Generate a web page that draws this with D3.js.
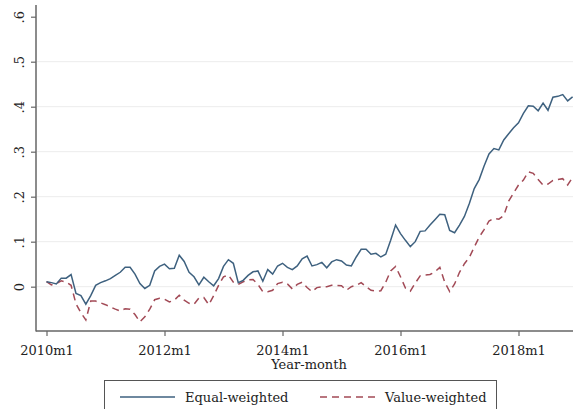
<!DOCTYPE html>
<html>
<head>
<meta charset="utf-8">
<script src="https://cdn.jsdelivr.net/npm/d3@7"></script>
<style>
  html, body { margin: 0; padding: 0; background: #fff; }
  svg { display: block; }
  text { font-family: "DejaVu Serif", "Liberation Serif", serif; fill: #222; }
</style>
</head>
<body>
<svg id="chart" width="573" height="409"></svg>
<script>
// Monthly cumulative returns, 2010m1 .. 2018m12
const startYear = 2010;
const equalWeighted = [
  0.011, 0.009, 0.006, 0.019, 0.019, 0.027, -0.015, -0.020, -0.039, -0.020,
  0.003, 0.009, 0.013, 0.018, 0.025, 0.032, 0.043, 0.043, 0.028, 0.007,
  -0.004, 0.003, 0.035, 0.045, 0.050, 0.040, 0.041, 0.070, 0.056, 0.032,
  0.022, 0.004, 0.021, 0.011, 0.002, 0.018, 0.045, 0.060, 0.052, 0.009,
  0.014, 0.025, 0.033, 0.035, 0.012, 0.038, 0.028, 0.046, 0.052, 0.043,
  0.038, 0.046, 0.062, 0.068, 0.046, 0.049, 0.054, 0.042, 0.055, 0.060,
  0.057, 0.048, 0.046, 0.066, 0.083, 0.083, 0.072, 0.074, 0.066, 0.072,
  0.103, 0.137, 0.118, 0.103, 0.089, 0.100, 0.123, 0.124, 0.137, 0.149,
  0.161, 0.160, 0.125, 0.120, 0.137, 0.156, 0.185, 0.218, 0.238, 0.268,
  0.295, 0.307, 0.304, 0.326, 0.340, 0.353, 0.364, 0.385, 0.402, 0.401,
  0.391, 0.408, 0.392, 0.421, 0.423, 0.427, 0.413, 0.422
];
const valueWeighted = [
  0.011, 0.004, 0.007, 0.013, 0.010, 0.003, -0.038, -0.058, -0.074, -0.032,
  -0.032, -0.036, -0.040, -0.045, -0.050, -0.054, -0.049, -0.050, -0.062, -0.078,
  -0.067, -0.050, -0.029, -0.026, -0.028, -0.034, -0.030, -0.019, -0.030, -0.037,
  -0.039, -0.025, -0.024, -0.040, -0.020, 0.003, 0.022, 0.026, 0.010, 0.005,
  0.011, 0.015, 0.016, 0.005, -0.011, -0.011, -0.008, 0.007, 0.010, 0.006,
  -0.005, 0.005, 0.010, -0.002, -0.011, -0.002, 0.000, 0.000, 0.003, 0.003,
  0.002, -0.008, 0.000, 0.003, 0.009, 0.000, -0.008, -0.010, -0.009, 0.010,
  0.035, 0.045, 0.022, -0.003, -0.010, 0.008, 0.024, 0.026, 0.027, 0.033,
  0.043, 0.010, -0.011, 0.006, 0.032, 0.051, 0.065, 0.088, 0.110, 0.127,
  0.146, 0.152, 0.150, 0.158, 0.190, 0.208, 0.226, 0.237, 0.255, 0.252,
  0.238, 0.226, 0.228, 0.236, 0.238, 0.240, 0.226, 0.243
];
const xTickMonths = [0, 24, 48, 72, 96];
const xTickLabels = ["2010m1", "2012m1", "2014m1", "2016m1", "2018m1"];
const yTickValues = [0, 0.1, 0.2, 0.3, 0.4, 0.5, 0.6];
const yTickLabels = ["0", ".1", ".2", ".3", ".4", ".5", ".6"];
const yGridValues = [0, 0.1, 0.2, 0.3, 0.4, 0.5];
const seriesNames = ["Equal-weighted", "Value-weighted"];

const svg = d3.select("#chart");

// plot region
const plot = { left: 36, right: 582, top: 5, bottom: 331 };

const x = d3.scaleLinear().domain([0, 96]).range([46.5, 518.5]);
const y = d3.scaleLinear().domain([-0.0985, 0.626]).range([plot.bottom, plot.top]);

// horizontal grid
svg.append("g")
  .selectAll("line")
  .data(yGridValues)
  .join("line")
  .attr("x1", plot.left + 1).attr("x2", plot.right)
  .attr("y1", d => y(d)).attr("y2", d => y(d))
  .attr("stroke", "#ececec").attr("stroke-width", 1);

// y axis
const yAxis = d3.axisLeft(y)
  .tickValues(yTickValues)
  .tickFormat((d, i) => yTickLabels[i])
  .tickSize(5)
  .tickSizeOuter(0);
const gy = svg.append("g").attr("transform", `translate(${plot.left},0)`).call(yAxis);
gy.select(".domain").remove();
gy.selectAll(".tick line").attr("stroke", "#666").attr("stroke-width", 1.2);
gy.selectAll(".tick text")
  .attr("x", null).attr("dy", null)
  .attr("transform", "translate(-12,0) rotate(-90)")
  .attr("text-anchor", "middle")
  .attr("font-size", 13)
  .style("fill", "#222");

// x axis
const xAxis = d3.axisBottom(x)
  .tickValues(xTickMonths)
  .tickFormat((d, i) => xTickLabels[i])
  .tickSize(5)
  .tickSizeOuter(0);
const gx = svg.append("g").attr("transform", `translate(0,${plot.bottom})`).call(xAxis);
gx.select(".domain").remove();
gx.selectAll(".tick line").attr("stroke", "#666").attr("stroke-width", 1.2);
gx.selectAll(".tick text")
  .attr("y", 24).attr("dy", null)
  .attr("font-size", 13)
  .style("fill", "#222");

// axis lines
svg.append("line")
  .attr("x1", plot.left).attr("x2", plot.left)
  .attr("y1", plot.top).attr("y2", plot.bottom + 0.5)
  .attr("stroke", "#666").attr("stroke-width", 1.5);
svg.append("line")
  .attr("x1", plot.left).attr("x2", plot.right)
  .attr("y1", plot.bottom).attr("y2", plot.bottom)
  .attr("stroke", "#666").attr("stroke-width", 1.5);

// x axis title
svg.append("text")
  .attr("x", 309).attr("y", 369)
  .attr("text-anchor", "middle")
  .attr("font-size", 13)
  .text("Year-month");

// series lines
const line = d3.line()
  .x((d, i) => x(i))
  .y(d => y(d));

svg.append("path")
  .datum(valueWeighted)
  .attr("fill", "none")
  .attr("stroke", "#a24a56")
  .attr("stroke-width", 1.5)
  .attr("stroke-dasharray", "7,5")
  .attr("d", line);

svg.append("path")
  .datum(equalWeighted)
  .attr("fill", "none")
  .attr("stroke", "#3e617f")
  .attr("stroke-width", 1.5)
  .attr("d", line);

// legend
const lg = svg.append("g");
lg.append("rect")
  .attr("x", 104.5).attr("y", 380.5)
  .attr("width", 392).attr("height", 40)
  .attr("fill", "#fff")
  .attr("stroke", "#555").attr("stroke-width", 1);
lg.append("line")
  .attr("x1", 120).attr("x2", 175).attr("y1", 397).attr("y2", 397)
  .attr("stroke", "#3e617f").attr("stroke-width", 1.5);
lg.append("text")
  .attr("x", 185).attr("y", 401.5)
  .attr("font-size", 13)
  .text(seriesNames[0]);
lg.append("line")
  .attr("x1", 320).attr("x2", 377).attr("y1", 397).attr("y2", 397)
  .attr("stroke", "#a24a56").attr("stroke-width", 1.5)
  .attr("stroke-dasharray", "7,5");
lg.append("text")
  .attr("x", 385).attr("y", 401.5)
  .attr("font-size", 13)
  .text(seriesNames[1]);
</script>
</body>
</html>
